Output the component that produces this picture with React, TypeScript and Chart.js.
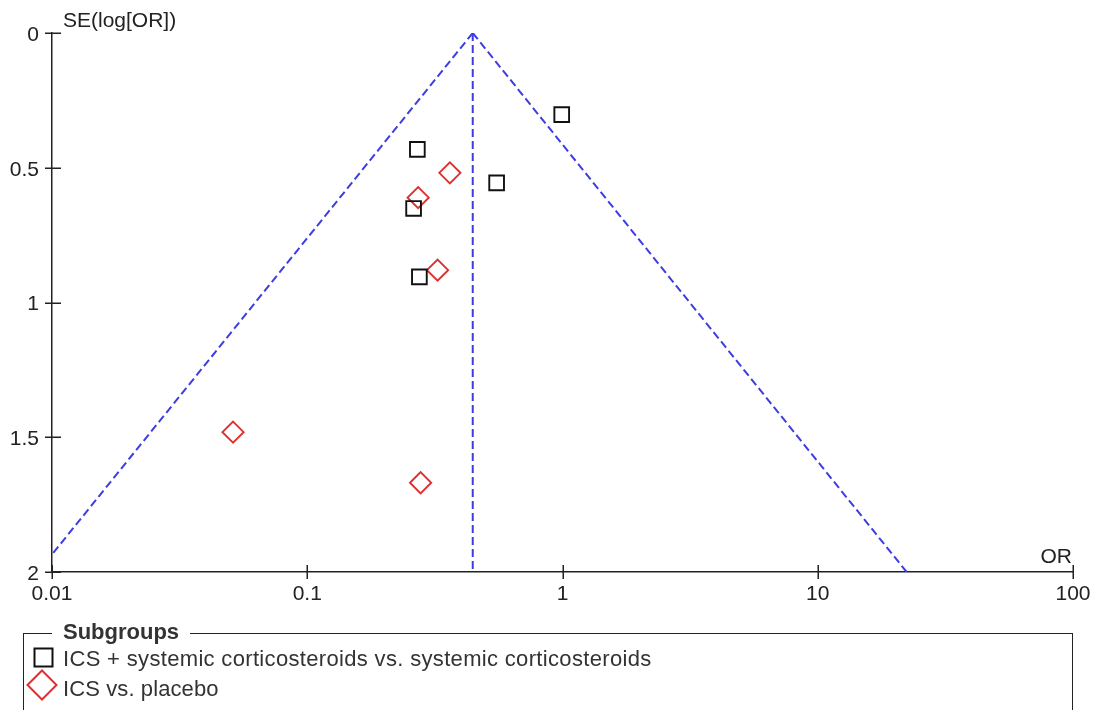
import React, { useEffect, useRef } from "react";
import { Chart, registerables } from "chart.js";

Chart.register(...registerables);

// ---- data ----
const xTickValues = [0.01, 0.1, 1, 10, 100];
const xTickLabels = ["0.01", "0.1", "1", "10", "100"];
const yTickValues = [0, 0.5, 1, 1.5, 2];
const yTickLabels = ["0", "0.5", "1", "1.5", "2"];

// ICS + systemic corticosteroids vs. systemic corticosteroids
const groupA_OR = [0.993, 0.27, 0.552, 0.261, 0.275];
const groupA_SE = [0.303, 0.432, 0.556, 0.651, 0.905];

// ICS vs. placebo
const groupB_OR = [0.362, 0.272, 0.324, 0.0512, 0.278];
const groupB_SE = [0.519, 0.611, 0.88, 1.481, 1.669];

// funnel (pooled estimate and 95% limits)
const pooledOR = 0.445;
const funnelSE = [0, 2];
const funnelLeftOR = [0.445, 0.0088];
const funnelRightOR = [0.445, 22.3];

const legendLabels = [
  "ICS + systemic corticosteroids vs. systemic corticosteroids",
  "ICS vs. placebo",
];

const FONT = "'Liberation Sans', Arial, sans-serif";

const crossTicks = {
  id: "crossTicks",
  afterDraw(chart: any) {
    const { ctx, chartArea, scales } = chart;
    ctx.save();
    ctx.strokeStyle = "#222";
    ctx.lineWidth = 1.5;
    ctx.beginPath();
    xTickValues.forEach((v) => {
      const px = Math.round(scales.x.getPixelForValue(v)) + 0.25;
      ctx.moveTo(px, chartArea.bottom - 7);
      ctx.lineTo(px, chartArea.bottom + 7);
    });
    yTickValues.forEach((v) => {
      const py = Math.round(scales.y.getPixelForValue(v)) + 0.25;
      ctx.moveTo(chartArea.left - 7, py);
      ctx.lineTo(chartArea.left + 9, py);
    });
    ctx.stroke();
    ctx.restore();
  },
};

export default function App() {
  const ref = useRef<HTMLCanvasElement | null>(null);

  useEffect(() => {
    if (!ref.current) return;
    const pts = (xs: number[], ys: number[]) => xs.map((x, i) => ({ x, y: ys[i] }));
    const funnelStyle = {
      type: "line",
      borderColor: "#3d3de2",
      borderWidth: 2,
      borderDash: [8, 4],
      pointRadius: 0,
      fill: false,
      order: 2,
    };
    const chart = new Chart(ref.current, {
      type: "scatter",
      data: {
        datasets: [
          {
            label: legendLabels[0],
            data: pts(groupA_OR, groupA_SE),
            pointStyle: "rect",
            pointRadius: 10.4,
            pointBorderWidth: 1.9,
            borderColor: "#111",
            backgroundColor: "rgba(0,0,0,0)",
            order: 1,
          },
          {
            label: legendLabels[1],
            data: pts(groupB_OR, groupB_SE),
            pointStyle: "rectRot",
            pointRadius: 10.6,
            pointBorderWidth: 1.9,
            borderColor: "#dd3030",
            backgroundColor: "rgba(0,0,0,0)",
            order: 1,
          },
          { ...funnelStyle, label: "left", data: pts(funnelLeftOR, funnelSE) },
          { ...funnelStyle, label: "right", data: pts(funnelRightOR, funnelSE) },
          { ...funnelStyle, label: "pooled", data: pts([pooledOR, pooledOR], funnelSE) },
        ] as any,
      },
      options: {
        animation: false,
        responsive: false,
        events: [],
        layout: { padding: { left: 0, right: 24, top: 33, bottom: 0 } },
        plugins: { legend: { display: false }, tooltip: { enabled: false } },
        scales: {
          x: {
            type: "logarithmic",
            position: "bottom",
            min: 0.01,
            max: 100,
            grid: { display: false, drawTicks: false },
            border: { display: true, color: "#222", width: 1.5 },
            afterBuildTicks: (s: any) => {
              s.ticks = xTickValues.map((v) => ({ value: v }));
            },
            afterFit: (s: any) => {
              s.height = 138;
              s.paddingLeft = 0;
              s.paddingRight = 0;
            },
            ticks: {
              autoSkip: false,
              maxRotation: 0,
              padding: 10,
              color: "#222",
              font: { family: FONT, size: 21 },
              callback: (_v: any, i: number) => xTickLabels[i],
            },
          },
          y: {
            type: "linear",
            reverse: true,
            min: 0,
            max: 2,
            grid: { display: false, drawTicks: false },
            border: { display: true, color: "#222", width: 1.5 },
            afterBuildTicks: (s: any) => {
              s.ticks = yTickValues.map((v) => ({ value: v }));
            },
            afterFit: (s: any) => {
              s.width = 52;
              s.paddingTop = 0;
              s.paddingBottom = 0;
            },
            ticks: {
              padding: 13,
              labelOffset: 2,
              color: "#222",
              font: { family: FONT, size: 21 },
              callback: (_v: any, i: number) => yTickLabels[i],
            },
          },
        },
      } as any,
      plugins: [crossTicks],
    });
    return () => chart.destroy();
  }, []);

  const textStyle: React.CSSProperties = {
    position: "absolute",
    fontFamily: FONT,
    fontSize: 22,
    lineHeight: "22px",
    whiteSpace: "nowrap",
    color: "#333",
  };

  return (
    <div
      style={{
        position: "absolute",
        left: 0,
        top: 0,
        width: 1097,
        height: 710,
        overflow: "hidden",
        background: "#fff",
      }}
    >
      <canvas ref={ref} width={1097} height={710} style={{ position: "absolute", left: 0, top: 0 }} />
      <div style={{ ...textStyle, fontSize: 21, lineHeight: "21px", left: 63, top: 9, color: "#222" }}>
        SE(log[OR])
      </div>
      <div style={{ ...textStyle, fontSize: 21, lineHeight: "21px", right: 1097 - 1072, top: 545, color: "#222" }}>
        OR
      </div>
      <div
        style={{
          position: "absolute",
          left: 23,
          top: 632.5,
          width: 1050,
          height: 140,
          boxSizing: "border-box",
          borderLeft: "1.5px solid #222",
          borderTop: "1.5px solid #222",
          borderRight: "1.5px solid #222",
        }}
      />
      <div
        style={{
          ...textStyle,
          left: 52,
          top: 620.5,
          padding: "0 11px",
          background: "#fff",
          fontWeight: "bold",
        }}
      >
        Subgroups
      </div>
      <svg
        width={120}
        height={110}
        style={{ position: "absolute", left: 0, top: 600 }}
      >
        <rect x={34.5} y={48.5} width={18} height={18} fill="none" stroke="#111" strokeWidth={2} />
        <polygon points="27.5,85 42,70.5 56.5,85 42,99.5" fill="none" stroke="#dd3030" strokeWidth={2} />
      </svg>
      <div style={{ ...textStyle, left: 63, top: 648.4, letterSpacing: "0.33px" }}>{legendLabels[0]}</div>
      <div style={{ ...textStyle, left: 63, top: 677.6, letterSpacing: "0.1px" }}>{legendLabels[1]}</div>
    </div>
  );
}
